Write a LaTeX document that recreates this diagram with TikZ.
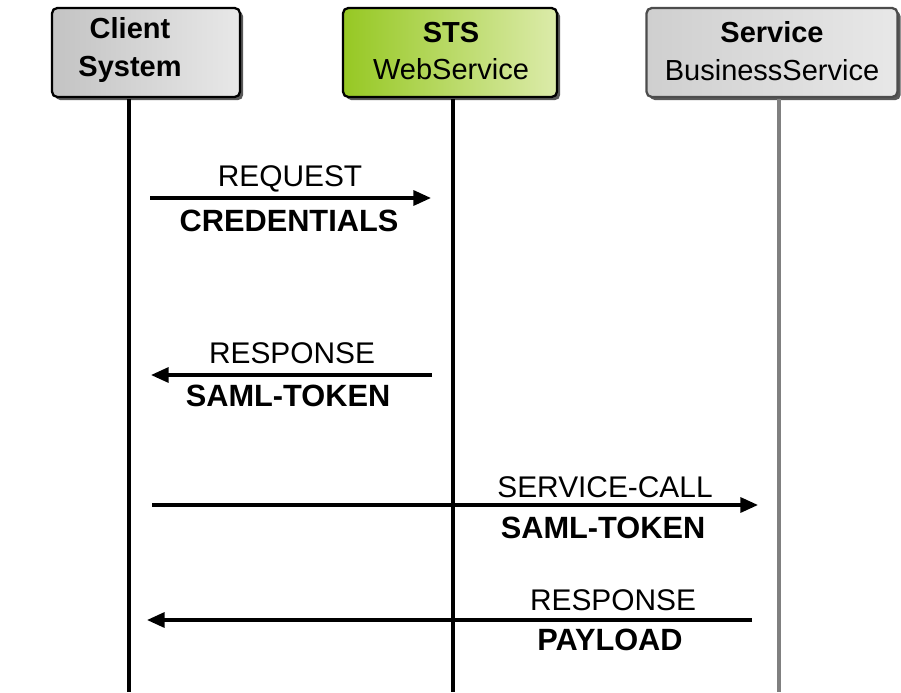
\documentclass[tikz,border=0pt]{standalone}
\usepackage{fontspec}
\setmainfont{Liberation Sans}
\usetikzlibrary{arrows.meta,shadows}

\definecolor{stsgreen}{RGB}{150,200,35}
\definecolor{stslight}{RGB}{220,235,170}
\definecolor{boxgray}{RGB}{195,195,195}
\definecolor{boxlight}{RGB}{232,232,232}

\begin{document}
\begin{tikzpicture}[x=0.02cm, y=-0.02cm]
	% Styles for the header boxes, lifelines and messages
	\tikzset{
		actor/.style={draw=black, line width=1.3pt, rounded corners=3pt,
			inner sep=0pt, minimum height=1.78cm,
			drop shadow={shadow xshift=1.8pt, shadow yshift=-1.8pt, opacity=1, fill=black!65}},
		actorname/.style={align=center, font=\fontsize{16.5}{21.5}\selectfont},
		lifeline/.style={line width=1.8pt},
		message/.style={line width=1.9pt, -{Triangle[length=10pt, width=8.5pt]}},
		msglabel/.style={font=\fontsize{17}{18}\selectfont},
		msgvalue/.style={font=\bfseries\fontsize{17.5}{18}\selectfont}
	}
	
	\useasboundingbox (0,0) rectangle (901,692);
	
	% Header boxes
	\node[actor, minimum width=3.76cm, left color=boxgray, right color=boxlight] (client) at (146,52.5) {};
	\node[actor, minimum width=4.28cm, left color=stsgreen, right color=stslight] (sts) at (450,52.5) {};
	\node[actor, draw=black!70, minimum width=5.02cm, left color=boxgray!80, right color=boxlight] (service) at (772,52.5) {};
	\node[actorname] (client name) at (130,50) {\bfseries Client\\\bfseries System};
	\node[actorname] (sts name) at (451,51) {\bfseries STS\\WebService};
	\node[actorname] (service name) at (772,51) {\bfseries Service\\BusinessService};
	
	% Lifelines
	\coordinate (client top) at (129,99);
	\coordinate (client bot) at (129,692);
	\coordinate (sts top) at (453,99);
	\coordinate (sts bot) at (453,692);
	\coordinate (service top) at (779,99);
	\coordinate (service bot) at (779,692);
	\draw[lifeline] (client top) -- (client bot);
	\draw[lifeline] (sts top) -- (sts bot);
	\draw[lifeline, black!50] (service top) -- (service bot);
	
	% Request to the STS
	\coordinate (req from) at (150,198);
	\coordinate (req to) at (431,198);
	\draw[message] (req from) -- (req to);
	\node[msglabel] (req name) at (290,179) {REQUEST};
	\node[msgvalue] (req data) at (289,221) {CREDENTIALS};
	
	% Token comes back
	\coordinate (tok from) at (432,375);
	\coordinate (tok to) at (151,375);
	\draw[message] (tok from) -- (tok to);
	\node[msglabel] (tok name) at (292,353) {RESPONSE};
	\node[msgvalue] (tok data) at (288,396) {SAML-TOKEN};
	
	% Call of the business service
	\coordinate (call from) at (152,505);
	\coordinate (call to) at (758,505);
	\draw[message] (call from) -- (call to);
	\node[msglabel] (call name) at (605,487) {SERVICE-CALL};
	\node[msgvalue] (call data) at (603,528) {SAML-TOKEN};
	
	% Payload comes back
	\coordinate (pay from) at (752,620);
	\coordinate (pay to) at (147,620);
	\draw[message] (pay from) -- (pay to);
	\node[msglabel] (pay name) at (613,600) {RESPONSE};
	\node[msgvalue] (pay data) at (610,640) {PAYLOAD};
\end{tikzpicture}
\end{document}
